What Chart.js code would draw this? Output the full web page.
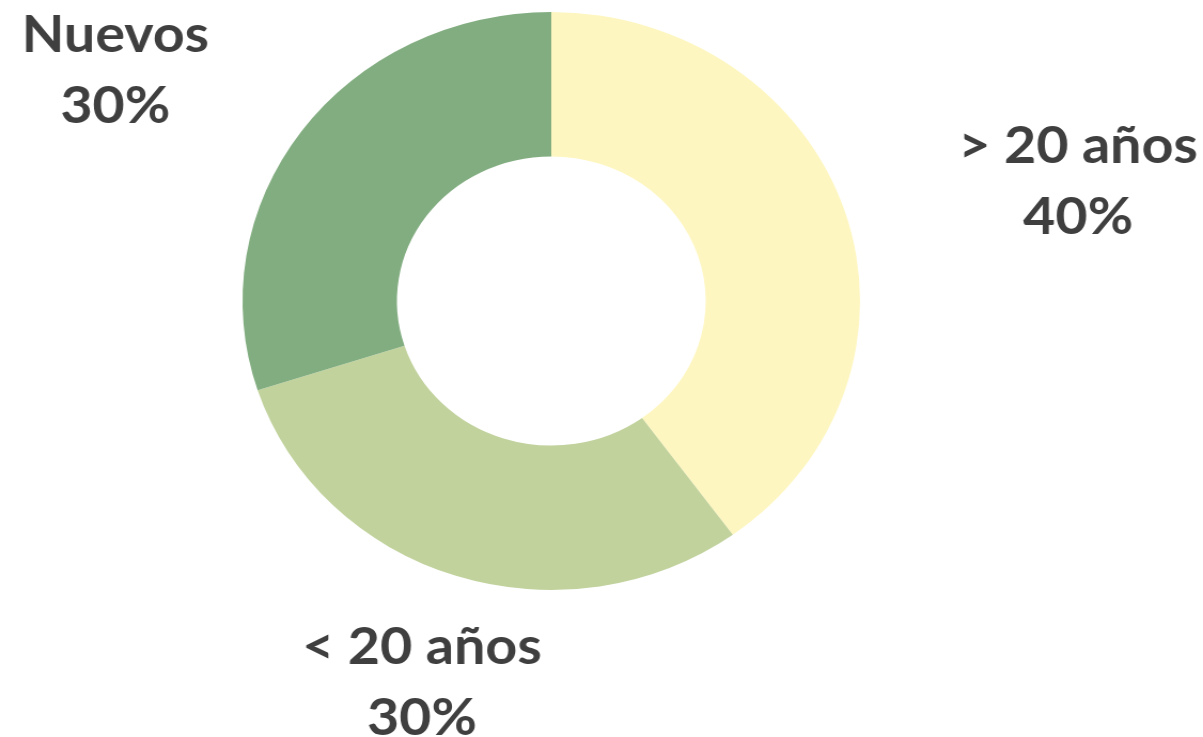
<!DOCTYPE html>
<html>
<head>
<meta charset="utf-8">
<script src="https://cdn.jsdelivr.net/npm/chart.js@4/dist/chart.umd.min.js"></script>
<style>
  html, body { margin: 0; padding: 0; background: #ffffff; overflow: hidden; }
  #wrap { width: 1126px; height: 737px; transform: scaleX(1.0684); transform-origin: 0 0; }
  canvas { display: block; }
</style>
</head>
<body>
<div id="wrap"><canvas id="c" width="1126" height="737" style="width:1126px;height:737px"></canvas></div>
<script>
const categories = ['> 20 años', '< 20 años', 'Nuevos'];
const values = [40, 30, 30];
const colors = ['#FEF6C0', '#C1D29D', '#82AD80'];
// label block centre, in units of the outer radius, relative to the donut centre
const labelOffsets = [[1.706, -0.419], [-0.419, 1.315], [-1.412, -0.804]];

const total = values.reduce((a, b) => a + b, 0);

const outerLabels = {
  id: 'outerLabels',
  afterDraw(chart) {
    const ctx = chart.ctx;
    const meta = chart.getDatasetMeta(0);
    ctx.save();
    ctx.fillStyle = '#3F3F3F';
    ctx.font = 'bold 52px Lato';
    ctx.textAlign = 'center';
    ctx.textBaseline = 'alphabetic';
    meta.data.forEach((arc, i) => {
      const r = arc.outerRadius;
      const cx = arc.x + labelOffsets[i][0] * r;
      const cy = arc.y + labelOffsets[i][1] * r;
      const pct = Math.round(values[i] / total * 100) + '%';
      ctx.fillText(categories[i], cx, cy - 17);
      ctx.fillText(pct, cx, cy + 54);
    });
    ctx.restore();
  }
};

new Chart(document.getElementById('c'), {
  type: 'doughnut',
  data: {
    labels: categories,
    datasets: [{
      data: values,
      backgroundColor: colors,
      borderWidth: 0
    }]
  },
  options: {
    responsive: false,
    animation: false,
    cutout: '50%',
    layout: { padding: { top: 12, bottom: 147, left: 227, right: 321 } },
    plugins: { legend: { display: false }, tooltip: { enabled: false } }
  },
  plugins: [outerLabels]
});
</script>
</body>
</html>
